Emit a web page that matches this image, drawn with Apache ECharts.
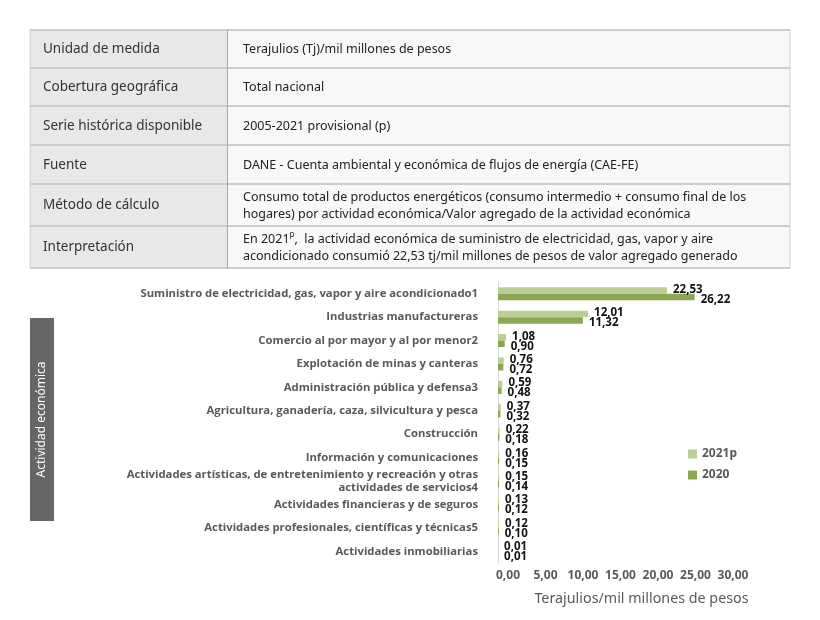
<!DOCTYPE html>
<html>
<head>
<meta charset="utf-8">
<script src="https://cdn.jsdelivr.net/npm/echarts@6/dist/echarts.min.js"></script>
<style>html,body{margin:0;padding:0;background:#fff}#c{width:820px;height:620px}</style>
</head>
<body>
<div id="c"></div>
<script>
const categories = [
  'Suministro de electricidad, gas, vapor y aire acondicionado1',
  'Industrias manufactureras',
  'Comercio al por mayor y al por menor2',
  'Explotación de minas y canteras',
  'Administración pública y defensa3',
  'Agricultura, ganadería, caza, silvicultura y pesca',
  'Construcción',
  'Información y comunicaciones',
  'Actividades artísticas, de entretenimiento y recreación y otras\nactividades de servicios4',
  'Actividades financieras y de seguros',
  'Actividades profesionales, científicas y técnicas5',
  'Actividades inmobiliarias'
];
const values2021p = [22.53, 12.01, 1.08, 0.76, 0.59, 0.37, 0.22, 0.16, 0.15, 0.13, 0.12, 0.01];
const values2020 = [26.22, 11.32, 0.90, 0.72, 0.48, 0.32, 0.18, 0.15, 0.14, 0.12, 0.10, 0.01];
const seriesNames = ['2021p', '2020'];
const xTicks = [0, 5, 10, 15, 20, 25, 30];

const tableRows = [
  ['Unidad de medida', 'Terajulios (Tj)/mil millones de pesos'],
  ['Cobertura geográfica', 'Total nacional'],
  ['Serie histórica disponible', '2005-2021 provisional (p)'],
  ['Fuente', 'DANE - Cuenta ambiental y económica de flujos de energía (CAE-FE)'],
  ['Método de cálculo', 'Consumo total de productos energéticos (consumo intermedio + consumo final de los\nhogares) por actividad económica/Valor agregado de la actividad económica'],
  ['Interpretación', 'En 2021{sup|p},  la actividad económica de suministro de electricidad, gas, vapor y aire\nacondicionado consumió 22,53 tj/mil millones de pesos de valor agregado generado']
];

const rowEdges = [30, 68, 106, 145, 184, 226, 268];
const tX0 = 30, tX1 = 227, tX2 = 790;
const g = [];
g.push({type:'rect', shape:{x:tX0, y:rowEdges[0], width:tX1-tX0, height:rowEdges[6]-rowEdges[0]}, style:{fill:'#e8e8e8'}, z:0});
g.push({type:'rect', shape:{x:tX1, y:rowEdges[0], width:tX2-tX1, height:rowEdges[6]-rowEdges[0]}, style:{fill:'#f8f8f8'}, z:0});
rowEdges.forEach(y => g.push({type:'line', shape:{x1:tX0, y1:y, x2:tX2, y2:y}, style:{stroke:'#cccccc', lineWidth:2}, z:2}));
g.push({type:'line', shape:{x1:tX0, y1:rowEdges[0], x2:tX0, y2:rowEdges[6]}, style:{stroke:'#d0d0d0', lineWidth:1}, z:2});
g.push({type:'line', shape:{x1:tX1+0.5, y1:rowEdges[0], x2:tX1+0.5, y2:rowEdges[6]}, style:{stroke:'#a8a8a8', lineWidth:1}, z:2});
g.push({type:'line', shape:{x1:tX2, y1:rowEdges[0], x2:tX2, y2:rowEdges[6]}, style:{stroke:'#d0d0d0', lineWidth:1}, z:2});
tableRows.forEach((r, i) => {
  const cy = (rowEdges[i] + rowEdges[i+1]) / 2;
  g.push({type:'text', x:43, y:cy + 0.5, z:3, style:{text:r[0], fill:'#333333', font:'13.5px "Noto Sans"', verticalAlign:'middle', align:'left'}});
  g.push({type:'text', x:243, y:cy + 0.5, z:3, style:{text:r[1], fill:'#222222', fontFamily:'Noto Sans', fontSize:12.5, lineHeight:17, verticalAlign:'middle', align:'left',
    rich:{sup:{fontSize:8, fontFamily:'Noto Sans', fill:'#222222', verticalAlign:'top', padding:[0,0,6,0]}}}});
});
// vertical axis title box
g.push({type:'rect', shape:{x:30, y:318, width:24, height:203}, style:{fill:'#666666'}, z:1});
g.push({type:'text', x:42, y:419.5, rotation:Math.PI/2, z:3, style:{text:'Actividad económica', fill:'#ffffff', font:'12px "Noto Sans"', align:'center', verticalAlign:'middle'}});

const fmt = v => Number(v).toFixed(2).replace('.', ',');

const chart = echarts.init(document.getElementById('c'), null, {renderer:'canvas'});
chart.setOption({
  animation:false,
  graphic:g,
  color:['#b9cf95', '#8ba751'],
  grid:{left:498, right:97, top:282, bottom:57, containLabel:false},
  legend:{
    orient:'vertical', left:683, top:443, itemWidth:9, itemHeight:9, itemGap:9,
    icon:'rect',
    textStyle:{color:'#595959', fontFamily:'Noto Sans', fontWeight:'bold', fontSize:12},
    data:seriesNames
  },
  xAxis:{
    type:'value', min:xTicks[0], max:xTicks[xTicks.length-1], interval:5,
    axisLine:{show:false}, axisTick:{show:false}, splitLine:{show:false},
    axisLabel:{formatter:fmt, color:'#595959', fontFamily:'Noto Sans', fontWeight:'bold', fontSize:12, margin:7, padding:[0,0,0,20]},
    name:'Terajulios/mil millones de pesos', nameLocation:'middle', nameGap:29,
    nameTextStyle:{color:'#595959', fontFamily:'Noto Sans', fontSize:14.3, padding:[0,0,0,62]}
  },
  yAxis:{
    type:'category', data:categories, inverse:true,
    axisLine:{show:true, lineStyle:{color:'#d9d9d9'}}, axisTick:{show:false},
    axisLabel:{color:'#595959', fontFamily:'Open Sans', fontWeight:'bold', fontSize:11.3, margin:20, align:'right', lineHeight:13}
  },
  series:[
    {name:seriesNames[0], type:'bar', data:values2021p, barWidth:6.5, barGap:'0%',
     label:{show:true, position:'right', distance:6, offset:[0,-1], formatter:p=>fmt(p.value), color:'#111111', fontFamily:'Noto Sans', fontWeight:'bold', fontSize:11.5}},
    {name:seriesNames[1], type:'bar', data:values2020, barWidth:6.5, barGap:'0%',
     label:{show:true, position:'right', distance:6, offset:[0,2.5], formatter:p=>fmt(p.value), color:'#111111', fontFamily:'Noto Sans', fontWeight:'bold', fontSize:11.5}}
  ]
});
</script>
</body>
</html>
